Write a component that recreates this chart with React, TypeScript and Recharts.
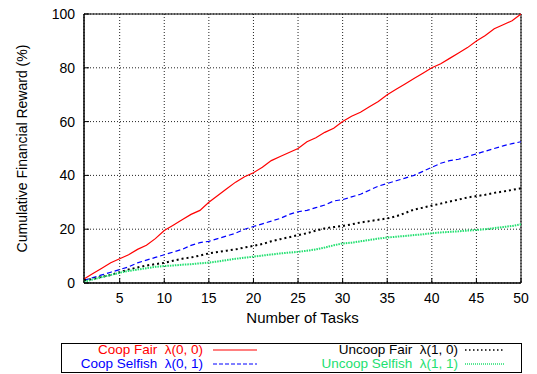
import React from "react";
import {
  LineChart, Line, XAxis, YAxis, CartesianGrid, ReferenceArea,
} from "recharts";

const tasks = Array.from({ length: 50 }, (_, i) => i + 1);

const coopFair = [
  1.5, 3.5, 5.5, 7.5, 9, 10.5, 12.5, 14, 16.5, 19.5,
  21.5, 23.5, 25.5, 27, 30, 32.5, 35, 37.5, 39.5, 41,
  43, 45.5, 47, 48.5, 50, 52.5, 54, 56, 57.5, 60,
  62, 63.5, 65.5, 67.5, 70, 72, 74, 76, 78, 80,
  81.5, 83.5, 85.5, 87.5, 90, 92, 94.5, 96, 97.5, 100,
];

const coopSelfish = [
  1, 2, 3, 4, 5, 6, 7.5, 8.5, 9.5, 10.5,
  11.5, 12.5, 14, 15, 15.5, 16.5, 17.5, 18.5, 20, 21,
  22, 23, 24, 25.5, 26.5, 27, 28, 29, 30.5, 31,
  32, 33, 34.5, 36, 37, 38, 39, 40, 41.5, 43,
  44.5, 45.5, 46, 47, 48, 49, 50, 51, 51.8, 52.5,
];

const uncoopFair = [
  1, 1.5, 2.3, 3, 4, 5, 5.8, 6.5, 7, 7.5,
  8.3, 9, 9.5, 10.2, 11, 11.5, 12, 12.5, 13.2, 13.8,
  14.5, 15.5, 16.3, 17, 17.8, 18.5, 19.5, 20.3, 20.8, 21.2,
  21.8, 22.5, 23, 23.5, 24, 24.8, 26, 27.3, 28, 28.8,
  29.5, 30.3, 31, 31.8, 32.3, 32.8, 33.5, 34, 34.6, 35.2,
];

const uncoopSelfish = [
  0.5, 1.3, 2.2, 3, 3.8, 4.5, 5, 5.5, 6, 6.3,
  6.5, 6.8, 7, 7.3, 7.6, 8, 8.5, 9, 9.4, 9.8,
  10.2, 10.6, 11, 11.3, 11.6, 12, 12.5, 13.2, 14, 14.7,
  15, 15.5, 16, 16.5, 16.9, 17.2, 17.5, 17.8, 18.1, 18.5,
  18.8, 19, 19.2, 19.5, 19.7, 20, 20.4, 20.8, 21.2, 21.8,
];

const xTicks = [5, 10, 15, 20, 25, 30, 35, 40, 45, 50];
const yTicks = [0, 20, 40, 60, 80, 100];

const data = tasks.map((t, i) => ({
  task: t,
  coopFair: coopFair[i],
  coopSelfish: coopSelfish[i],
  uncoopFair: uncoopFair[i],
  uncoopSelfish: uncoopSelfish[i],
}));

const FONT = "'Liberation Sans', Arial, sans-serif";
const GREEN = "#22e070";

// legend entries (text right-aligned, sample line to the right, like gnuplot's key)
const legendRows = [
  { label: "Coop Fair", lam: "λ(0, 0)", color: "#ff0000", dash: "", w: 1.2, right: 203, top: 343, sx: 213, sw: 44 },
  { label: "Coop Selfish", lam: "λ(0, 1)", color: "#0000ff", dash: "4 2", w: 1.2, right: 203, top: 357, sx: 213, sw: 44 },
  { label: "Uncoop Fair", lam: "λ(1, 0)", color: "#000000", dash: "1.5 2.5", w: 1.6, right: 458, top: 343, sx: 465, sw: 40 },
  { label: "Uncoop Selfish", lam: "λ(1, 1)", color: GREEN, dash: "1 1", w: 1.6, right: 458, top: 357, sx: 465, sw: 40 },
];

export default function App() {
  return (
    <div style={{ position: "absolute", left: 0, top: 0, width: 537, height: 374, background: "#fff", fontFamily: FONT }}>
      <LineChart width={537} height={374} data={data} margin={{ top: 14, right: 16, left: 0, bottom: 46 }}>
        <CartesianGrid stroke="#222" strokeDasharray="1 2" strokeWidth={1} />
        <XAxis
          dataKey="task"
          type="number"
          domain={[1, 50]}
          ticks={xTicks}
          height={45}
          tick={{ fill: "#000", fontSize: 14, fontFamily: FONT }}
          tickSize={-5}
          tickMargin={15}
          tickLine={{ stroke: "#000" }}
          axisLine={{ stroke: "#000" }}
          label={{ value: "Number of Tasks", position: "insideBottom", offset: 5, fill: "#000", fontSize: 15, fontFamily: FONT }}
        />
        <YAxis
          type="number"
          domain={[0, 100]}
          ticks={yTicks}
          width={84}
          tick={{ fill: "#000", fontSize: 14, fontFamily: FONT }}
          tickSize={-5}
          tickMargin={14}
          tickLine={{ stroke: "#000" }}
          axisLine={{ stroke: "#000" }}
          label={{ value: "Cumulative Financial Reward (%)", angle: -90, position: "center", dx: -20, fill: "#000", fontSize: 14, fontFamily: FONT }}
        />
        <ReferenceArea x1={1} x2={50} y1={0} y2={100} fill="none" stroke="#000" strokeWidth={1} />
        <Line dataKey="coopFair" stroke="#ff0000" strokeWidth={1.2} dot={false} isAnimationActive={false} />
        <Line dataKey="coopSelfish" stroke="#0000ff" strokeWidth={1.2} strokeDasharray="5 3" dot={false} isAnimationActive={false} />
        <Line dataKey="uncoopFair" stroke="#000000" strokeWidth={2} strokeDasharray="2 3" dot={false} isAnimationActive={false} />
        <Line dataKey="uncoopSelfish" stroke={GREEN} strokeWidth={2} strokeDasharray="1.5 1" dot={false} isAnimationActive={false} />
      </LineChart>
      <div style={{ position: "absolute", left: 61, top: 343, width: 459, height: 28, border: "1px solid #000" }} />
      {legendRows.map((r) => (
        <React.Fragment key={r.label}>
          <div
            style={{
              position: "absolute", right: 537 - r.right, top: r.top, fontSize: 13.5,
              lineHeight: "14px", color: r.color, whiteSpace: "pre",
            }}
          >
            {r.label + "  " + r.lam}
          </div>
          <svg style={{ position: "absolute", left: r.sx, top: r.top + 1 }} width={r.sw + 1} height={12}>
            <line x1={0} x2={r.sw} y1={6} y2={6} stroke={r.color} strokeWidth={r.w} strokeDasharray={r.dash || undefined} />
          </svg>
        </React.Fragment>
      ))}
    </div>
  );
}
